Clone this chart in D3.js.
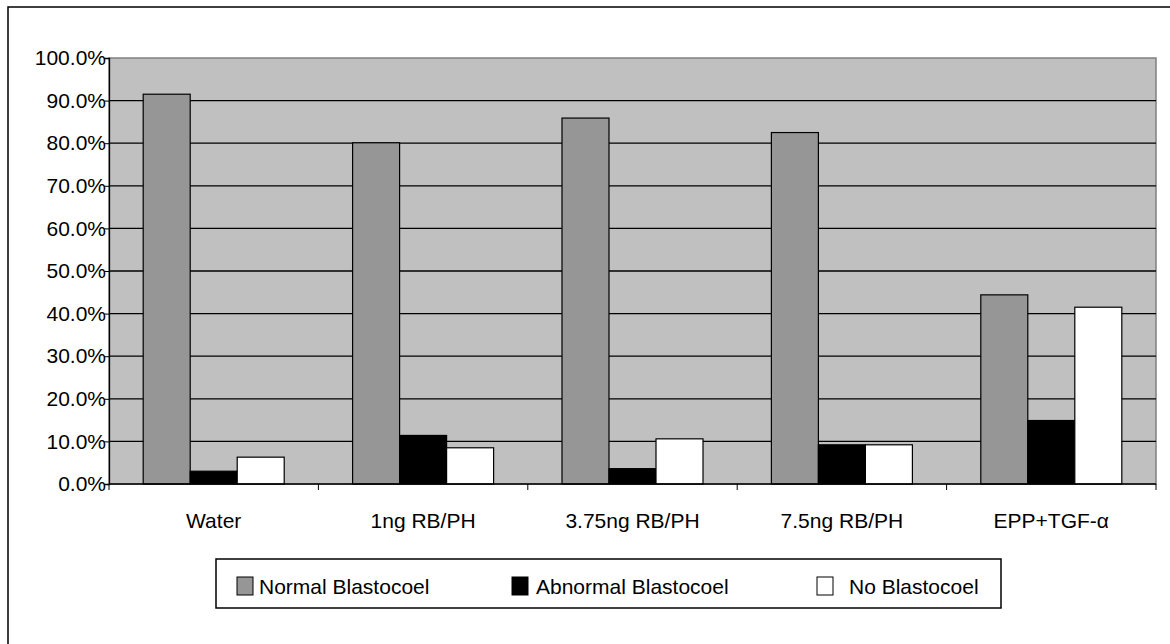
<!DOCTYPE html>
<html>
<head>
<meta charset="utf-8">
<script src="https://cdn.jsdelivr.net/npm/d3@7"></script>
<style>
  body { margin: 0; background: #fff; }
  text { font-family: "Liberation Sans", Arial, sans-serif; fill: #000; }
</style>
</head>
<body>
<div id="graph"></div>
<script>
// chart values (percent)
var categories = ["Water", "1ng RB/PH", "3.75ng RB/PH", "7.5ng RB/PH", "EPP+TGF-\u03b1"];
var seriesNames = ["Normal Blastocoel", "Abnormal Blastocoel", "No Blastocoel"];
var normal   = [91.5, 80.1, 85.9, 82.5, 44.4];
var abnormal = [3.0, 11.4, 3.6, 9.2, 14.9];
var none     = [6.3, 8.5, 10.6, 9.2, 41.5];
var yTicks   = [0, 10, 20, 30, 40, 50, 60, 70, 80, 90, 100];

var colors = ["#969696", "#000000", "#ffffff"];
var series = [normal, abnormal, none];

var W = 1170, H = 644;
var margin = {top: 58, right: 14, bottom: 160, left: 109},
    width = W - margin.left - margin.right,
    height = H - margin.top - margin.bottom;

var svg = d3.select("#graph").append("svg")
    .attr("width", W)
    .attr("height", H);

// outer frame (right/bottom run off the page)
svg.append("rect")
    .attr("x", 8).attr("y", 7)
    .attr("width", W + 10).attr("height", H + 10)
    .attr("fill", "#fff")
    .attr("stroke", "#000")
    .attr("stroke-width", 1.5);

var g = svg.append("g")
    .attr("transform", "translate(" + margin.left + "," + margin.top + ")");

// scales
var x0 = d3.scaleBand()
    .domain(categories)
    .range([0, width])
    .paddingInner(0.3266)
    .paddingOuter(0.1633);

var x1 = d3.scaleBand()
    .domain(d3.range(series.length))
    .range([0, x0.bandwidth()]);

var y = d3.scaleLinear()
    .domain([0, 100])
    .range([height, 0]);

// plot background
g.append("rect")
    .attr("width", width)
    .attr("height", height)
    .attr("fill", "#c0c0c0")
    .attr("stroke", "#808080")
    .attr("stroke-width", 1.5);

// gridlines
g.append("g")
    .selectAll("line")
    .data(yTicks.slice(1, -1))
  .enter().append("line")
    .attr("x1", 0).attr("x2", width)
    .attr("y1", function(d){ return y(d); })
    .attr("y2", function(d){ return y(d); })
    .attr("stroke", "#000")
    .attr("stroke-width", 1.3);

// bars
var groups = g.selectAll(".grp")
    .data(categories)
  .enter().append("g")
    .attr("class", "grp")
    .attr("transform", function(d){ return "translate(" + x0(d) + ",0)"; });

groups.selectAll("rect")
    .data(function(d, i){ return series.map(function(s, k){ return {k: k, v: s[i]}; }); })
  .enter().append("rect")
    .attr("x", function(d){ return x1(d.k); })
    .attr("width", x1.bandwidth())
    .attr("y", function(d){ return y(d.v); })
    .attr("height", function(d){ return height - y(d.v); })
    .attr("fill", function(d){ return colors[d.k]; })
    .attr("stroke", "#000")
    .attr("stroke-width", 1.2);

// y axis
var yAxis = g.append("g")
    .call(d3.axisLeft(y)
        .tickValues(yTicks)
        .tickSize(5)
        .tickPadding(-2)
        .tickFormat(function(d){ return d.toFixed(1) + "%"; }));
yAxis.select(".domain").attr("stroke", "#000").attr("stroke-width", 1.3);
yAxis.selectAll(".tick line").attr("stroke", "#000");
yAxis.selectAll("text")
    .style("font-size", "21px")
    .attr("font-family", null);

// x axis with ticks at category boundaries
var bounds = d3.range(categories.length + 1).map(function(i){ return i * x0.step(); });
var xAxis = g.append("g")
    .attr("transform", "translate(0," + height + ")");
xAxis.append("line")
    .attr("x1", 0).attr("x2", width)
    .attr("stroke", "#000").attr("stroke-width", 1.3);
xAxis.selectAll(".bt")
    .data(bounds)
  .enter().append("line")
    .attr("class", "bt")
    .attr("x1", function(d){ return d; }).attr("x2", function(d){ return d; })
    .attr("y1", 0).attr("y2", 6)
    .attr("stroke", "#000");
xAxis.selectAll(".cl")
    .data(categories)
  .enter().append("text")
    .attr("class", "cl")
    .attr("x", function(d){ return x0(d) + x0.bandwidth() / 2; })
    .attr("y", 44)
    .attr("text-anchor", "middle")
    .style("font-size", "21px")
    .text(function(d){ return d; });

// legend
var legend = svg.append("g").attr("transform", "translate(216,559)");
legend.append("rect")
    .attr("width", 785).attr("height", 49)
    .attr("fill", "#fff")
    .attr("stroke", "#000")
    .attr("stroke-width", 1.5);
var legX = [21, 296, 601];
var legTextX = [43, 320, 633];
seriesNames.forEach(function(name, k){
  legend.append("rect")
    .attr("x", legX[k]).attr("y", 18)
    .attr("width", 16).attr("height", 18)
    .attr("fill", colors[k])
    .attr("stroke", "#000")
    .attr("stroke-width", 1);
  legend.append("text")
    .attr("x", legTextX[k]).attr("y", 35)
    .style("font-size", "21px")
    .text(name);
});
</script>
</body>
</html>
